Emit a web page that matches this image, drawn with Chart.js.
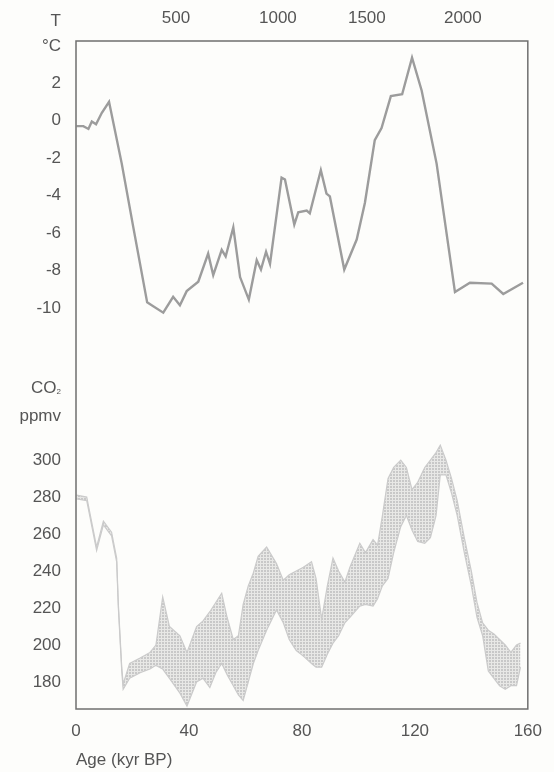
<!DOCTYPE html>
<html>
<head>
<meta charset="utf-8">
<title>Vostok: temperature and CO2</title>
<script src="https://cdn.jsdelivr.net/npm/chart.js@4.4.1/dist/chart.umd.min.js"></script>
<style>
  html, body { margin: 0; padding: 0; background: #fdfdfb; }
  #wrap { width: 554px; height: 772px; }
</style>
</head>
<body>
<div id="wrap"><canvas id="vostok"></canvas></div>
<script>
// temperature change (°C) against age (kyr BP)
const tempAge = [0.2, 2.6, 4.4, 5.6, 7.1, 9.1, 11.7, 16.2, 20.3, 25.2, 26.8, 30.9, 34.4, 36.8, 39.2, 43.3, 46.8, 48.6, 51.6, 53.0,
  55.7, 58.1, 61.2, 64.0, 65.5, 67.3, 68.7, 72.8, 74.0, 77.3, 78.7, 81.7, 82.8, 86.7, 88.7, 89.9, 95.0, 99.4, 102.3, 105.8,
  108.2, 111.5, 115.5, 119.0, 122.4, 127.7, 134.2, 139.5, 147.2, 151.3, 158.3];
const tempValue = [-0.3, -0.3, -0.45, -0.05, -0.2, 0.4, 1.0, -2.3, -5.7, -9.7, -9.85, -10.25, -9.4, -9.85, -9.1, -8.6, -7.1, -8.25, -6.9, -7.25,
  -5.7, -8.35, -9.55, -7.45, -7.95, -7.0, -7.65, -3.05, -3.15, -5.55, -4.9, -4.8, -4.95, -2.65, -3.9, -4.05, -7.95, -6.35, -4.4, -1.05,
  -0.4, 1.3, 1.4, 3.35, 1.6, -2.3, -9.15, -8.65, -8.7, -9.25, -8.65];

// CO2 (ppmv) envelope, upper and lower edge of the band
const co2Age = [0.2, 3.8, 7.3, 9.7, 12.6, 14.4, 15.0, 16.2, 16.7, 19.0, 22.7, 26.2, 28.3, 30.7, 33.1, 36.8, 39.3, 42.7, 45.0, 47.4,
  49.5, 51.6, 53.5, 55.7, 57.5, 59.2, 61.0, 62.8, 64.5, 67.5, 71.0, 73.4, 75.5, 78.0, 80.5, 83.4, 85.0, 87.0, 89.0, 91.0,
  93.0, 95.2, 97.0, 100.5, 102.5, 105.2, 106.8, 108.5, 110.5, 112.5, 115.0, 117.0, 119.0, 121.0, 123.5, 125.5, 127.5, 129.0, 131.0, 133.0,
  135.0, 137.5, 140.0, 142.0, 144.0, 146.0, 148.0, 150.0, 152.0, 154.0, 156.0, 157.4];
const co2High = [281, 280, 253, 267, 261, 247, 222, 188, 179, 190, 193, 196, 200, 226, 210, 205, 196, 210, 213, 218,
  223, 228, 215, 203, 205, 222, 232, 239, 248, 253, 244, 235, 238, 240, 242, 245, 236, 214, 232, 247,
  240, 234, 242, 255, 250, 257, 254, 270, 290, 296, 300, 296, 284, 288, 296, 300, 304, 308, 300, 290,
  278, 258, 240, 223, 212, 208, 206, 203, 200, 196, 200, 201];
const co2Low = [279, 278, 251, 265, 259, 245, 220, 186, 176, 182, 185, 187, 189, 187, 182, 174, 167, 180, 182, 177,
  185, 190, 184, 178, 173, 170, 180, 190, 197, 208, 219, 212, 203, 197, 194, 190, 188, 188, 195, 201,
  205, 212, 215, 221, 222, 221, 225, 232, 236, 250, 264, 270, 262, 256, 255, 258, 270, 292, 292, 282,
  270, 250, 232, 215, 205, 186, 182, 178, 176, 178, 178, 188];

const ageTicks = [0, 40, 80, 120, 160];
const tempTicks = [2, 0, -2, -4, -6, -8, -10];
const co2Ticks = [300, 280, 260, 240, 220, 200, 180];

// depth (m) along the top, each placed at the age it corresponds to
const depthLabels = [500, 1000, 1500, 2000];
const depthAges = [35.4, 71.5, 103, 137];

const TEXT = '#555';
const FONT = { family: '"Liberation Sans", Arial, Helvetica, sans-serif', size: 17 };

const pairs = (xs, ys) => xs.map((x, i) => ({ x: x, y: ys[i] }));
const fixTicks = list => scale => { scale.ticks = list.map(v => ({ value: v })); };

// halftone-looking fill for the CO2 band
function stipple() {
  const c = document.createElement('canvas');
  c.width = 3; c.height = 3;
  const g = c.getContext('2d');
  g.fillStyle = '#e8e8e6';
  g.fillRect(0, 0, 3, 3);
  g.fillStyle = '#c8c8c8';
  g.fillRect(0, 0, 2, 2);
  return g.createPattern(c, 'repeat');
}

// frame round the plot and the unit notes beside the left axis
const framePlugin = {
  id: 'frame',
  afterDraw(chart) {
    const { ctx, chartArea: a, scales } = chart;
    ctx.save();
    ctx.strokeStyle = '#6f6f6f';
    ctx.lineWidth = 1.5;
    ctx.strokeRect(a.left, a.top, a.right - a.left, a.bottom - a.top);

    ctx.fillStyle = TEXT;
    ctx.font = FONT.size + 'px ' + FONT.family;
    ctx.textAlign = 'right';
    ctx.textBaseline = 'middle';
    const xr = scales.yT.right - 15;
    ctx.fillText('T', xr, a.top - 20);
    ctx.fillText('°C', xr, a.top + 5);

    const top = scales.yC.top;
    ctx.font = '8px ' + FONT.family;
    ctx.fillText('2', xr, top + 42);
    const w2 = ctx.measureText('2').width;
    ctx.font = FONT.size + 'px ' + FONT.family;
    ctx.fillText('CO', xr - w2, top + 38);
    ctx.fillText('ppmv', xr, top + 66);
    ctx.restore();
  }
};

new Chart(document.getElementById('vostok'), {
  type: 'line',
  data: {
    datasets: [
      {
        label: 'Temperature',
        data: pairs(tempAge, tempValue),
        yAxisID: 'yT',
        borderColor: '#9c9c9c',
        borderWidth: 2.4,
        pointRadius: 0,
        fill: false
      },
      {
        label: 'CO2 upper',
        data: pairs(co2Age, co2High),
        yAxisID: 'yC',
        borderColor: '#cbcbcb',
        borderWidth: 1.2,
        pointRadius: 0,
        fill: false
      },
      {
        label: 'CO2 lower',
        data: pairs(co2Age, co2Low),
        yAxisID: 'yC',
        borderColor: '#cbcbcb',
        borderWidth: 1.2,
        pointRadius: 0,
        backgroundColor: stipple(),
        fill: '-1'
      }
    ]
  },
  options: {
    responsive: true,
    maintainAspectRatio: false,
    animation: false,
    layout: { padding: { left: 0, right: 26, top: 0, bottom: 0 } },
    plugins: { legend: { display: false }, tooltip: { enabled: false } },
    scales: {
      x: {
        type: 'linear',
        position: 'bottom',
        min: 0,
        max: 160,
        afterBuildTicks: fixTicks(ageTicks),
        afterFit: s => { s.height = 63; },
        grid: { display: false, drawTicks: false },
        border: { display: false },
        ticks: { color: TEXT, font: FONT, padding: 12, maxRotation: 0 },
        title: { display: true, text: 'Age (kyr BP)', align: 'start', color: TEXT, font: FONT, padding: { top: 4, bottom: 1 } }
      },
      xDepth: {
        type: 'linear',
        position: 'top',
        min: 0,
        max: 160,
        afterBuildTicks: fixTicks(depthAges),
        afterFit: s => { s.height = 41; },
        grid: { display: false, drawTicks: false },
        border: { display: false },
        ticks: { color: TEXT, font: FONT, padding: 12, maxRotation: 0, callback: (v, i) => depthLabels[i] }
      },
      yT: {
        type: 'linear',
        position: 'left',
        stack: 'left',
        stackWeight: 309,
        weight: 2,
        min: -12.24,
        max: 4.24,
        afterBuildTicks: fixTicks(tempTicks),
        afterFit: s => { s.width = 76; },
        grid: { display: false, drawTicks: false },
        border: { display: false },
        ticks: { color: TEXT, font: FONT, padding: 15, autoSkip: false }
      },
      yC: {
        type: 'linear',
        position: 'left',
        stack: 'left',
        stackWeight: 359,
        weight: 1,
        min: 165.4,
        max: 359.5,
        afterBuildTicks: fixTicks(co2Ticks),
        afterFit: s => { s.width = 76; },
        grid: { display: false, drawTicks: false },
        border: { display: false },
        ticks: { color: TEXT, font: FONT, padding: 15, autoSkip: false }
      }
    }
  },
  plugins: [framePlugin]
});
</script>
</body>
</html>
